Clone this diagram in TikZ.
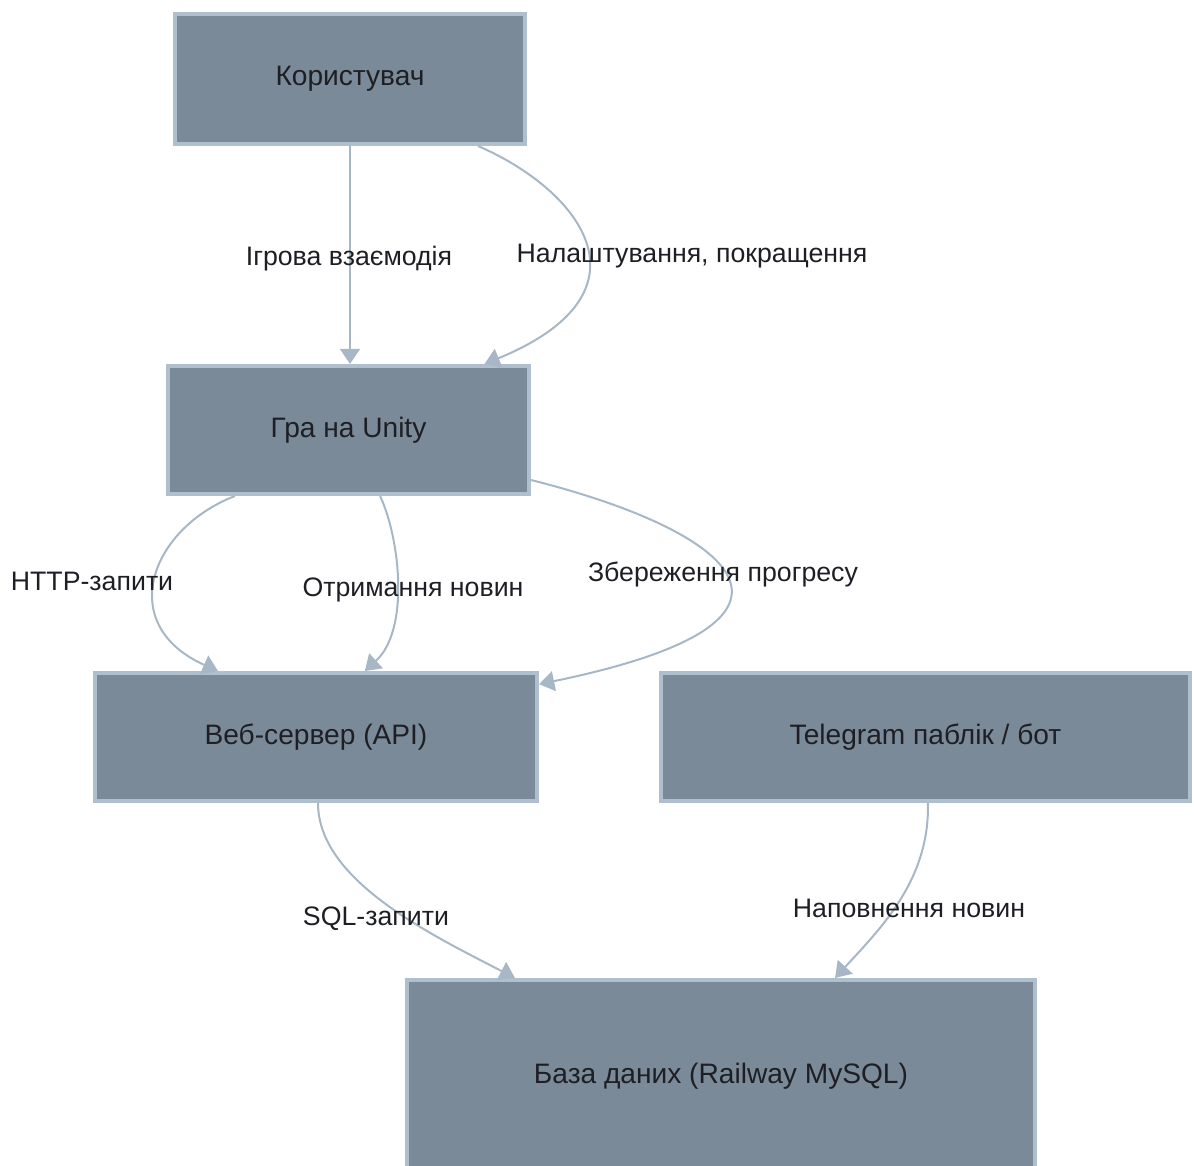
\documentclass[tikz,border=0pt]{standalone}
\usepackage{fontspec}
\setmainfont{Liberation Sans}
\usetikzlibrary{arrows.meta}
\definecolor{ink}{HTML}{1E1F24}
\definecolor{boxfill}{HTML}{7B8A98}
\definecolor{boxline}{HTML}{B0BFCE}
\definecolor{flowline}{HTML}{A8B7C6}

\tikzset{
  box/.style={draw=boxline,fill=boxfill,line width=0.1cm,inner sep=0pt,
    text=ink,font=\fontsize{20}{24}\selectfont,minimum height=3.2cm},
  flow/.style={draw=flowline,line width=0.05cm,
    -{Triangle[length=0.38cm,width=0.5cm]}},
  lbl/.style={text=ink,font=\fontsize{19}{23}\selectfont,inner sep=0pt}
}

\begin{document}
\begin{tikzpicture}[x=0.025cm,y=-0.025cm]
  \useasboundingbox (0,0) rectangle (1194,1165);
  % boxes
  \node[box,minimum width=8.75cm,minimum height=3.25cm] (user) at (350,79) {Користувач};
  \node[box,minimum width=9.025cm] (unity) at (348.5,430) {Гра на Unity};
  \node[box,minimum width=11.05cm] (api) at (316,737) {Веб-сервер (API)};
  \node[box,minimum width=13.225cm] (tg) at (925.5,737) {Telegram паблік / бот};
  \node[box,minimum width=15.7cm,minimum height=4.8cm] (db) at (721,1076) {База даних (Railway MySQL)};

  % connectors
  \draw[flow] (user.south) -- (user.south |- unity.north);
  \draw[flow] ([xshift=3.2cm]user.south) .. controls +(102,44) and +(175,-72) .. ([xshift=3.4cm]unity.north);
  \draw[flow] ([xshift=-2.84cm]unity.south) .. controls +(-85,33) and +(-103,-46) .. ([xshift=-2.45cm]api.north);
  \draw[flow] ([xshift=0.79cm]unity.south) .. controls +(20,43) and +(45,-41) .. ([xshift=1.22cm]api.north);
  \draw[flow] ([yshift=0.4cm]unity.south east) .. controls +(199,50) and +(311,-64) .. ([yshift=-0.33cm]api.north east);
  \draw[flow] ([xshift=0.05cm]api.south) .. controls +(0,77) and +(-85,-44) .. ([xshift=-5.15cm]db.north);
  \draw[flow] ([xshift=0.06cm]tg.south) .. controls +(2,77) and +(45,-49) .. ([xshift=2.85cm]db.north);

  % labels
  \node[lbl] (lblPlay) at (349,259) {Ігрова взаємодія};
  \node[lbl] (lblSettings) at (692,256) {Налаштування, покращення};
  \node[lbl] (lblHttp) at (92,581) {HTTP-запити};
  \node[lbl] (lblNews) at (413,590) {Отримання новин};
  \node[lbl] (lblSave) at (723,574) {Збереження прогресу};
  \node[lbl] (lblSql) at (376,919) {SQL-запити};
  \node[lbl] (lblFill) at (909,908) {Наповнення новин};
\end{tikzpicture}
\end{document}
